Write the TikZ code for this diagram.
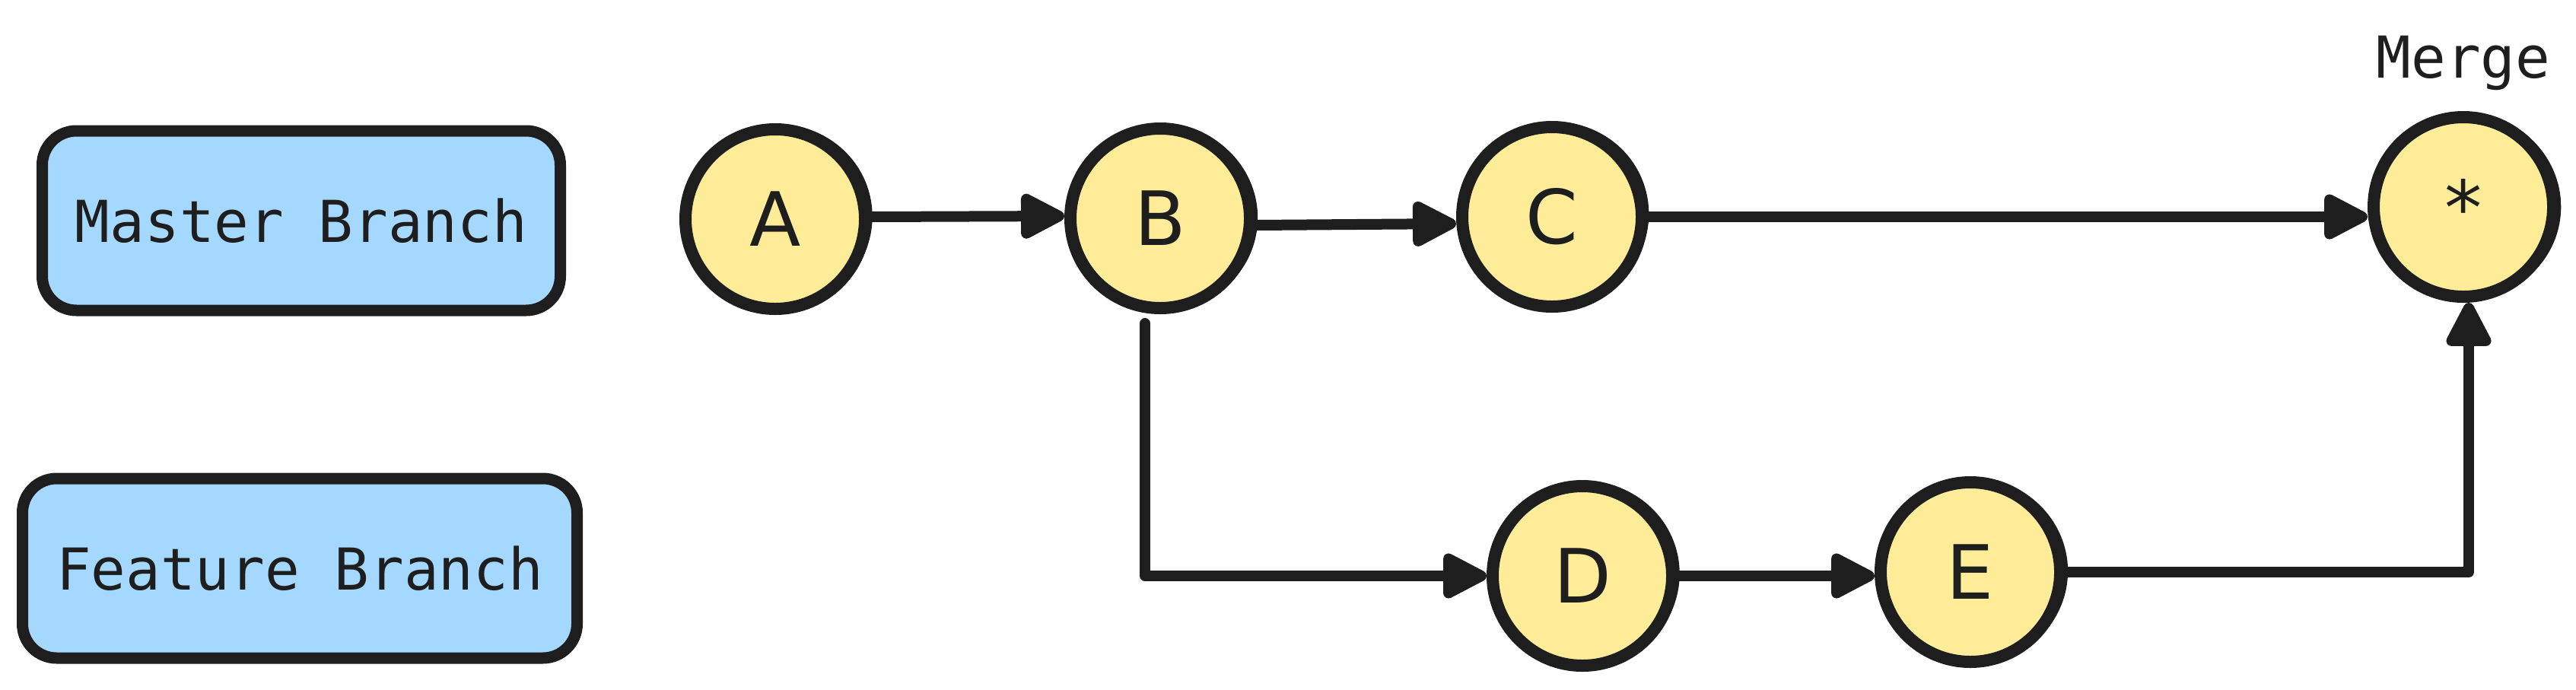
\documentclass[tikz,border=0pt]{standalone}
\usepackage{fontspec}
\setmonofont{DejaVu Sans Mono}
\newfontfamily\circfont{DejaVu Sans}
\usetikzlibrary{arrows.meta,calc}
\definecolor{ink}{HTML}{1E1E1E}
\definecolor{boxblue}{HTML}{A5D8FF}
\definecolor{nodeyellow}{HTML}{FFEC99}
\begin{document}
\begin{tikzpicture}[
  x=1cm,y=1cm,
  branchbox/.style={draw=ink, fill=boxblue, line width=0.15cm, rounded corners=0.45cm,
    minimum height=2.36cm, inner sep=0pt, font=\ttfamily\fontsize{21.6}{26}\selectfont, text=ink},
  commit/.style={draw=ink, fill=nodeyellow, line width=0.16cm, circle, minimum size=2.36cm,
    inner sep=0pt, font=\circfont\fontsize{28}{32}\selectfont, text=ink},
  rough/.style={draw=ink, line width=0.06cm},
  arr/.style={draw=ink, line width=0.14cm, line join=round, line cap=round,
    -{Triangle[length=0.66cm,width=0.64cm,round]}},
  lbl/.style={font=\ttfamily\fontsize{21.6}{26}\selectfont, text=ink}
]
\useasboundingbox (0,0) rectangle (33.86,-9.06);
\node[branchbox, minimum width=6.81cm] (master) at (3.96,-2.90) {Master Branch};
\node[branchbox, minimum width=7.29cm] (feature) at (3.94,-7.47) {Feature Branch};

\node[commit] (A) at (10.19,-2.88) {A};
\node[commit] (B) at (15.25,-2.87) {B};
\node[commit] (C) at (20.40,-2.85) {C};
\node[commit] (M) at (32.38,-2.72) {*};
\node[commit] (D) at (20.80,-7.57) {D};
\node[commit] (E) at (25.90,-7.52) {E};

% sketchy second strokes
\foreach \n/\r in {A/10, B/-8, C/14, M/-12, D/6, E/-5}{
  \draw[rough, rotate around={\r:(\n.center)}] ($(\n.center)+(0.03,0.02)$) ellipse [x radius=1.22cm, y radius=1.19cm];
}

\node[lbl, anchor=base] (mergelbl) at ($(M.north)+(0,0.44)$) {Merge};

\draw[arr] ([yshift=0.03cm]A.east) -- ([yshift=0.03cm]B.west);
\draw[arr] ([yshift=-0.09cm]B.east) -- ([yshift=-0.09cm]C.west);
\draw[arr] (C.east) -- (C.east -| M.west);
\draw[arr] ([xshift=-0.2cm,yshift=-0.12cm]B.south) |- (D.west);
\draw[arr] (D.east) -- (D.east -| E.west);
\draw[arr] (E.east) -| ([xshift=0.07cm]M.south);
\end{tikzpicture}
\end{document}
